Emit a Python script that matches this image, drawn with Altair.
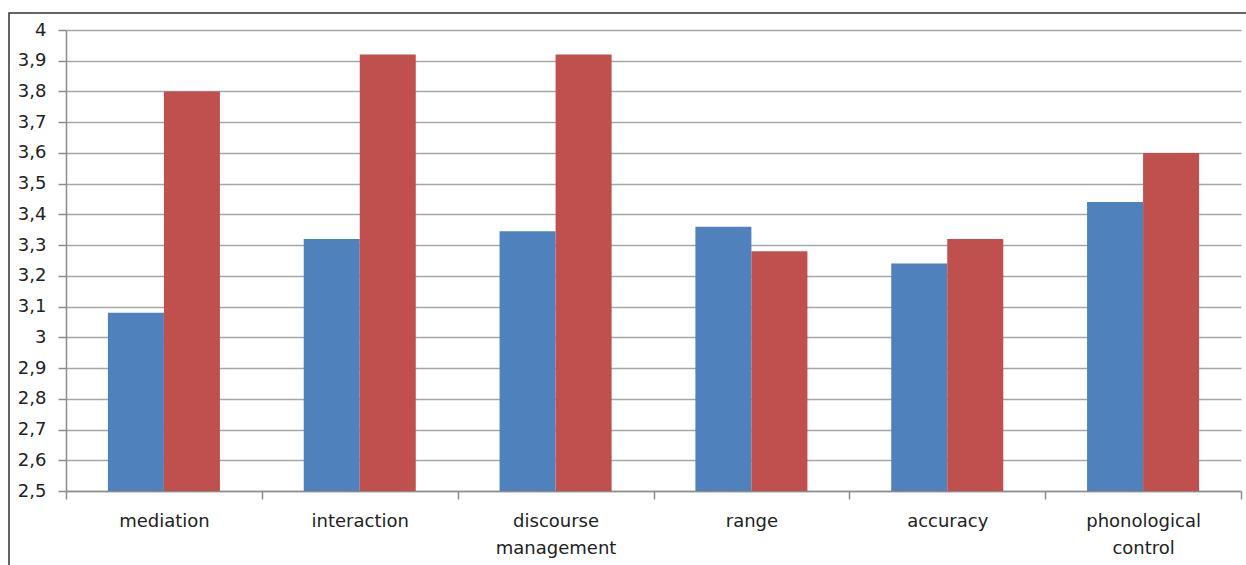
import altair as alt
import pandas as pd

categories = ["mediation", "interaction", "discourse management", "range", "accuracy", "phonological control"]
series_a = [3.08, 3.32, 3.345, 3.36, 3.24, 3.44]
series_b = [3.80, 3.92, 3.92, 3.28, 3.32, 3.60]
y_ticks = [2.5, 2.6, 2.7, 2.8, 2.9, 3.0, 3.1, 3.2, 3.3, 3.4, 3.5, 3.6, 3.7, 3.8, 3.9, 4.0]
base_value = 2.5

rows = []
for c, a, b in zip(categories, series_a, series_b):
    rows.append({"category": c, "series": "A", "value": a})
    rows.append({"category": c, "series": "B", "value": b})
df = pd.DataFrame(rows)

W, H = 1175, 461

bars = alt.Chart(df).mark_bar(stroke=None).encode(
    x=alt.X("category:N", sort=categories, title=None,
            scale=alt.Scale(paddingInner=0, paddingOuter=0),
            axis=alt.Axis(labelAngle=0, tickBand="extent", tickSize=8,
                          labelExpr="split(datum.label, ' ')",
                          labelFont="DejaVu Sans", labelFontSize=18,
                          labelColor="#222222", labelPadding=13,
                          labelLineHeight=27, labelBaseline="top",
                          domainColor="#8c8c8c", domainWidth=1.5,
                          tickColor="#8c8c8c", tickWidth=1.5, grid=False)),
    xOffset=alt.XOffset("series:N", scale=alt.Scale(paddingInner=0, paddingOuter=0.748)),
    y=alt.Y("value:Q", title=None,
            scale=alt.Scale(domain=[2.5, 4.0], nice=False, zero=False),
            axis=alt.Axis(values=y_ticks, tickSize=8,
                          labelExpr="replace(format(datum.value, '.1~f'), '.', ',')",
                          labelFont="DejaVu Sans", labelFontSize=18,
                          labelColor="#222222", labelPadding=12,
                          domainColor="#8c8c8c", domainWidth=1.5,
                          tickColor="#8c8c8c", tickWidth=1.5,
                          grid=True, gridColor="#a6a6a6", gridWidth=1.5)),
    y2=alt.datum(base_value),
    color=alt.Color("series:N", legend=None,
                    scale=alt.Scale(domain=["A", "B"], range=["#4F81BD", "#C0504D"])),
)

frame = alt.Chart(pd.DataFrame({"k": [0]})).mark_rect(
    fill=None, stroke="#333333", strokeWidth=1.5, clip=False
).encode(
    x=alt.value(-57), x2=alt.value(W + 80),
    y=alt.value(-17), y2=alt.value(H + 120),
)

chart = alt.layer(frame, bars).properties(
    width=W, height=H,
    autosize=alt.AutoSizeParams(type="none"),
    padding={"left": 66, "top": 30, "right": 5, "bottom": 74},
    background="white",
).configure_view(stroke=None)

chart.save("out.html", embed_options={"renderer": "svg", "actions": False})
